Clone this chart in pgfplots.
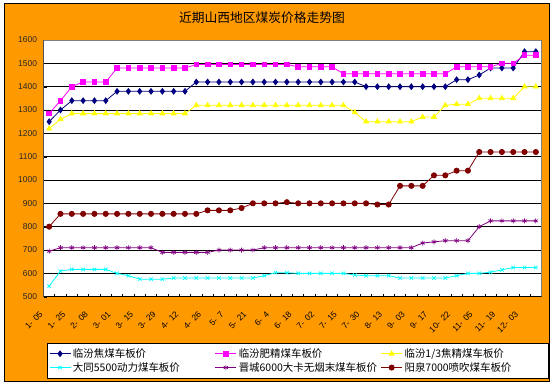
\documentclass[border=0pt]{standalone}
\usepackage{pgfplots}
\usepackage{pgfplotstable}
\pgfplotsset{compat=1.18}
\usepackage{fontspec}
\setmainfont{Liberation Sans}
\newfontfamily\cjk{Noto Sans CJK SC}
\definecolor{bgorange}{HTML}{FF9900}
\definecolor{cnavy}{HTML}{000080}
\definecolor{cmag}{HTML}{FF00FF}
\definecolor{cyel}{HTML}{FFFF00}
\definecolor{ccyan}{HTML}{00FFFF}
\definecolor{cpurp}{HTML}{800080}
\definecolor{cdred}{HTML}{800000}
\newcommand\dl[2]{#1-\hspace{0.45em}#2}
\pgfplotstableread{
x a b c d e f
0 1250 1285 1220 545 695 800
1 1300 1340 1260 610 710 855
2 1340 1400 1285 617 710 855
3 1340 1420 1285 617 710 855
4 1340 1420 1285 617 710 855
5 1340 1420 1285 617 710 855
6 1380 1480 1285 600 710 855
7 1380 1480 1285 590 710 855
8 1380 1480 1285 575 710 855
9 1380 1480 1285 575 710 855
10 1380 1480 1285 575 690 855
11 1380 1480 1285 580 690 855
12 1380 1480 1285 580 690 855
13 1420 1495 1320 580 690 855
14 1420 1495 1320 580 690 870
15 1420 1495 1320 580 700 870
16 1420 1495 1320 580 700 870
17 1420 1495 1320 580 700 880
18 1420 1495 1320 580 700 900
19 1420 1495 1320 590 710 900
20 1420 1495 1320 603 710 900
21 1420 1495 1320 603 710 905
22 1420 1485 1320 600 710 900
23 1420 1485 1320 600 710 900
24 1420 1485 1320 600 710 900
25 1420 1485 1320 600 710 900
26 1420 1455 1320 600 710 900
27 1420 1455 1290 593 710 900
28 1400 1455 1250 590 710 900
29 1400 1455 1250 590 710 895
30 1400 1455 1250 590 710 895
31 1400 1455 1250 580 710 975
32 1400 1455 1250 580 710 975
33 1400 1455 1270 580 730 975
34 1400 1455 1270 580 735 1020
35 1400 1455 1320 580 740 1020
36 1430 1485 1325 590 740 1040
37 1430 1485 1325 600 740 1040
38 1450 1485 1350 600 800 1120
39 1480 1485 1350 605 825 1120
40 1480 1500 1350 615 825 1120
41 1480 1500 1350 625 825 1120
42 1550 1535 1400 625 825 1120
43 1550 1535 1400 625 825 1120
}\prices
\begin{document}
\begin{tikzpicture}
\path[use as bounding box, fill=white] (0bp,0bp) rectangle (554bp,385bp);
\fill[bgorange, draw=black, line width=1bp] (4bp,3.5bp) rectangle (549.5bp,381bp);
\node[font=\cjk\fontsize{12.8}{14}\selectfont] at (262bp,367bp) {近期山西地区煤炭价格走势图};
\begin{axis}[
  at={(43.5bp,88.3bp)}, anchor=south west,
  scale only axis, width=498bp, height=256.7bp,
  xmin=-0.5, xmax=43.5, ymin=500, ymax=1600,
  ytick={500,600,...,1600},
  ymajorgrids, grid style={black, line width=0.7bp},
  axis background/.style={fill=white},
  axis line style={gray, line width=0.8bp},
  xtick={0,2,...,42},
  xticklabels={\dl{1}{05},\dl{1}{25},\dl{2}{08},\dl{3}{01},\dl{3}{15},\dl{3}{29},\dl{4}{12},\dl{4}{26},\dl{5}{7},\dl{5}{21},\dl{6}{4},\dl{6}{18},\dl{7}{02},\dl{7}{15},\dl{7}{30},\dl{8}{13},\dl{9}{03},\dl{9}{17},\dl{10}{22},\dl{11}{05},\dl{11}{19},\dl{12}{03}},
  minor xtick={-0.5,0.5,...,43.5},
  xtick pos=lower, ytick pos=left,
  tick align=inside,
  major x tick style={draw=none},
  minor x tick style={black, line width=0.7bp},
  minor tick length=3bp,
  major y tick style={black},
  major tick length=3bp,
  /pgf/number format/assume math mode=true,
  /pgf/number format/1000 sep={},
  yticklabel style={font=\fontsize{8.5}{10}\selectfont, color=black!85, xshift=-3bp},
  xticklabel style={font=\fontsize{8.5}{9}\selectfont, xshift=-5.5bp, yshift=-14bp, rotate=45, anchor=east},
  legend style={at={(0.007,-0.18)}, anchor=north west, draw=black, fill=white,
    font=\cjk\fontsize{10.5}{11}\selectfont, inner xsep=2bp, inner ysep=3.5bp,
    row sep=-0.5bp},
  legend columns=3,
  legend cell align=left,
  legend image code/.code={\draw[mark repeat=2,mark phase=2,#1] plot coordinates {(0bp,0bp) (10.5bp,0bp) (21bp,0bp)};},
  every axis plot/.append style={line width=0.8bp},
]
\addplot[cnavy, mark=diamond*, mark size=2.8bp] table[x=x,y=a] {\prices};
\addlegendentry{\makebox[140bp][l]{临汾焦煤车板价}}
\addplot[cmag, mark=square*, mark size=2.3bp] table[x=x,y=b] {\prices};
\addlegendentry{\makebox[140bp][l]{临汾肥精煤车板价}}
\addplot[cyel, mark=triangle*, mark size=2.8bp] table[x=x,y=c] {\prices};
\addlegendentry{\makebox[140bp][l]{临汾1/3焦精煤车板价}}
\addplot[ccyan, mark=x, mark size=2.5bp, mark options={line width=0.7bp}] table[x=x,y=d] {\prices};
\addlegendentry{\makebox[140bp][l]{大同5500动力煤车板价}}
\addplot[cpurp, mark=asterisk, mark size=2.5bp, mark options={line width=0.7bp}] table[x=x,y=e] {\prices};
\addlegendentry{\makebox[140bp][l]{晋城6000大卡无烟末煤车板价}}
\addplot[cdred, mark=*, mark size=2.6bp] table[x=x,y=f] {\prices};
\addlegendentry{\makebox[140bp][l]{阳泉7000喷吹煤车板价}}
\draw[black, line width=0.8bp] (rel axis cs:0,0) -- (rel axis cs:0,1);
\draw[black, line width=0.8bp] (rel axis cs:0,0) -- (rel axis cs:1,0);
\end{axis}
\end{tikzpicture}
\end{document}
